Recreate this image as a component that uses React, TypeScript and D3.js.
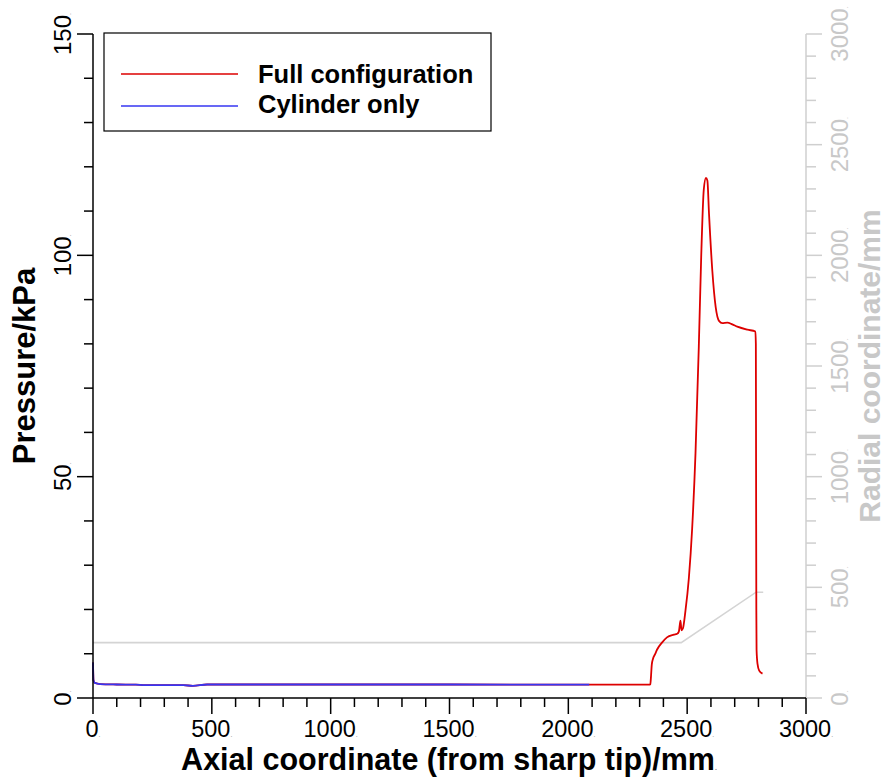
import React from "react";
import * as d3 from "d3";

const fullX = [0, 2, 8, 30, 100, 180, 220, 380, 420, 480, 600, 1000, 1500, 2000, 2200, 2340, 2345, 2348, 2351, 2356, 2365, 2373, 2394, 2415, 2444, 2458, 2465, 2469, 2472, 2476, 2482, 2493, 2507, 2521, 2535, 2549, 2559, 2570, 2579, 2585, 2592, 2606, 2620, 2634, 2648, 2669, 2690, 2711, 2754, 2787, 2789, 2790, 2791, 2792, 2796, 2803, 2817];
const fullP = [8, 4.0, 3.4, 3.15, 3.05, 3.0, 2.9, 2.9, 2.75, 3.05, 3.05, 3.05, 3.05, 3.0, 3.0, 3.0, 3.1, 5.0, 7.5, 8.8, 9.9, 10.9, 12.5, 13.7, 14.3, 14.5, 15.0, 16.5, 17.5, 15.3, 15.7, 19.8, 27, 38.3, 55.2, 79.4, 99.6, 114.9, 117.5, 116.9, 109.3, 96.4, 88.3, 85.2, 84.7, 84.8, 84.4, 83.9, 83.2, 82.8, 80, 50, 20, 10.9, 7.7, 6.2, 5.5];

const cylX = [0, 2, 8, 30, 100, 180, 220, 380, 420, 480, 600, 1000, 1500, 2000, 2088];
const cylP = [8, 4.0, 3.4, 3.15, 3.05, 3.0, 2.9, 2.9, 2.75, 3.05, 3.05, 3.05, 3.05, 3.0, 3.0];

const radX = [0, 2475, 2790, 2820];
const radR = [250, 250, 478, 478];

const xTicks = [0, 500, 1000, 1500, 2000, 2500, 3000];
const yTicks = [0, 50, 100, 150];
const rTicks = [0, 500, 1000, 1500, 2000, 2500, 3000];

const seriesNames = ["Full configuration", "Cylinder only"];
const seriesColors = ["#dd0000", "#3636f2"];

const FONT = "'Liberation Sans', Arial, Helvetica, sans-serif";

export default function App() {
  const x = d3.scaleLinear().domain([0, 3000]).range([93, 806]);
  const y = d3.scaleLinear().domain([0, 150]).range([698, 34]);
  const yR = d3.scaleLinear().domain([0, 3000]).range([698, 34]);

  const line = d3
    .line<[number, number]>()
    .x((d) => x(d[0]))
    .y((d) => y(d[1]))
    .curve(d3.curveMonotoneX);
  const rline = d3
    .line<[number, number]>()
    .x((d) => x(d[0]))
    .y((d) => yR(d[1]));

  const full = fullX.map((v, i) => [v, fullP[i]] as [number, number]);
  const cyl = cylX.map((v, i) => [v, cylP[i]] as [number, number]);
  const rad = radX.map((v, i) => [v, radR[i]] as [number, number]);

  const xMinor = d3.range(0, 3001, 100).filter((v) => v % 500 !== 0);
  const yMinor = d3.range(0, 151, 10).filter((v) => v % 50 !== 0);
  const rMinor = d3.range(0, 3001, 100).filter((v) => v % 500 !== 0);

  const gray = "#cfcfcf";
  const grayText = "#c8c8c8";

  return (
    <svg
      width={885}
      height={779}
      style={{ position: "absolute", left: 0, top: 0, background: "#fff" }}
      fontFamily={FONT}
    >
      {/* radial coordinate line */}
      <path d={rline(rad) || ""} fill="none" stroke="#d4d4d4" strokeWidth={1.6} />

      {/* pressure lines */}
      <path d={line(full) || ""} fill="none" stroke={seriesColors[0]} strokeWidth={1.8} />
      <path d={line(cyl) || ""} fill="none" stroke={seriesColors[1]} strokeWidth={1.8} />

      {/* right axis (gray) */}
      <line x1={x(3000)} x2={x(3000)} y1={yR(0)} y2={yR(3000)} stroke={gray} strokeWidth={1.5} />
      {rTicks.map((t) => (
        <g key={"rt" + t}>
          <line x1={x(3000)} x2={x(3000) + 16} y1={yR(t)} y2={yR(t)} stroke={gray} strokeWidth={1.5} />
          <text
            transform={`translate(848,${yR(t)}) rotate(-90)`}
            textAnchor="middle"
            fontSize={24}
            fill={grayText}
          >
            {t}
            <tspan fontSize={7} fill="#bbb">.</tspan>
          </text>
        </g>
      ))}
      {rMinor.map((t) => (
        <line key={"rm" + t} x1={x(3000)} x2={x(3000) + 10} y1={yR(t)} y2={yR(t)} stroke={gray} strokeWidth={1.5} />
      ))}
      <text
        transform={`translate(880,366) rotate(-90)`}
        textAnchor="middle"
        fontSize={30}
        fontWeight="bold"
        fill={grayText}
      >
        Radial coordinate/mm
      </text>

      {/* left axis */}
      <line x1={x(0)} x2={x(0)} y1={y(0)} y2={y(150)} stroke="#000" strokeWidth={1.5} />
      {yTicks.map((t) => (
        <g key={"yt" + t}>
          <line x1={x(0) - 16} x2={x(0)} y1={y(t)} y2={y(t)} stroke="#000" strokeWidth={1.5} />
          <text
            transform={`translate(71,${y(t)}) rotate(-90)`}
            textAnchor="middle"
            fontSize={24}
            fill="#000"
          >
            {t}
            <tspan fontSize={7} fill="#888">.</tspan>
          </text>
        </g>
      ))}
      {yMinor.map((t) => (
        <line key={"ym" + t} x1={x(0) - 9} x2={x(0)} y1={y(t)} y2={y(t)} stroke="#000" strokeWidth={1.5} />
      ))}
      <text
        transform={`translate(35,366) rotate(-90)`}
        textAnchor="middle"
        fontSize={31}
        fontWeight="bold"
        fill="#000"
      >
        Pressure/kPa
      </text>

      {/* bottom axis */}
      <line x1={x(0)} x2={x(3000)} y1={y(0)} y2={y(0)} stroke="#000" strokeWidth={1.5} />
      {xTicks.map((t) => (
        <g key={"xt" + t}>
          <line x1={x(t)} x2={x(t)} y1={y(0)} y2={y(0) + 16} stroke="#000" strokeWidth={1.5} />
          <text x={x(t)} y={737} textAnchor="middle" fontSize={23.5} fill="#000">
            {t}
            <tspan fontSize={7} fill="#888">.</tspan>
          </text>
        </g>
      ))}
      {xMinor.map((t) => (
        <line key={"xm" + t} x1={x(t)} x2={x(t)} y1={y(0)} y2={y(0) + 9} stroke="#000" strokeWidth={1.5} />
      ))}
      <text x={449} y={770} textAnchor="middle" fontSize={30.5} fontWeight="bold" fill="#000">
        Axial coordinate (from sharp tip)/mm
        <tspan fontSize={7} fill="#888">.</tspan>
      </text>

      {/* legend */}
      <rect x={104} y={33} width={387} height={98} fill="#fff" stroke="#000" strokeWidth={1.2} />
      {seriesNames.map((name, i) => (
        <g key={name}>
          <line x1={121} x2={238} y1={74 + i * 32} y2={74 + i * 32} stroke={seriesColors[i]} strokeWidth={1.5} />
          <text x={258} y={83 + i * 29.5} fontSize={25.5} fontWeight="bold" fill="#000">
            {name}
          </text>
        </g>
      ))}
    </svg>
  );
}
